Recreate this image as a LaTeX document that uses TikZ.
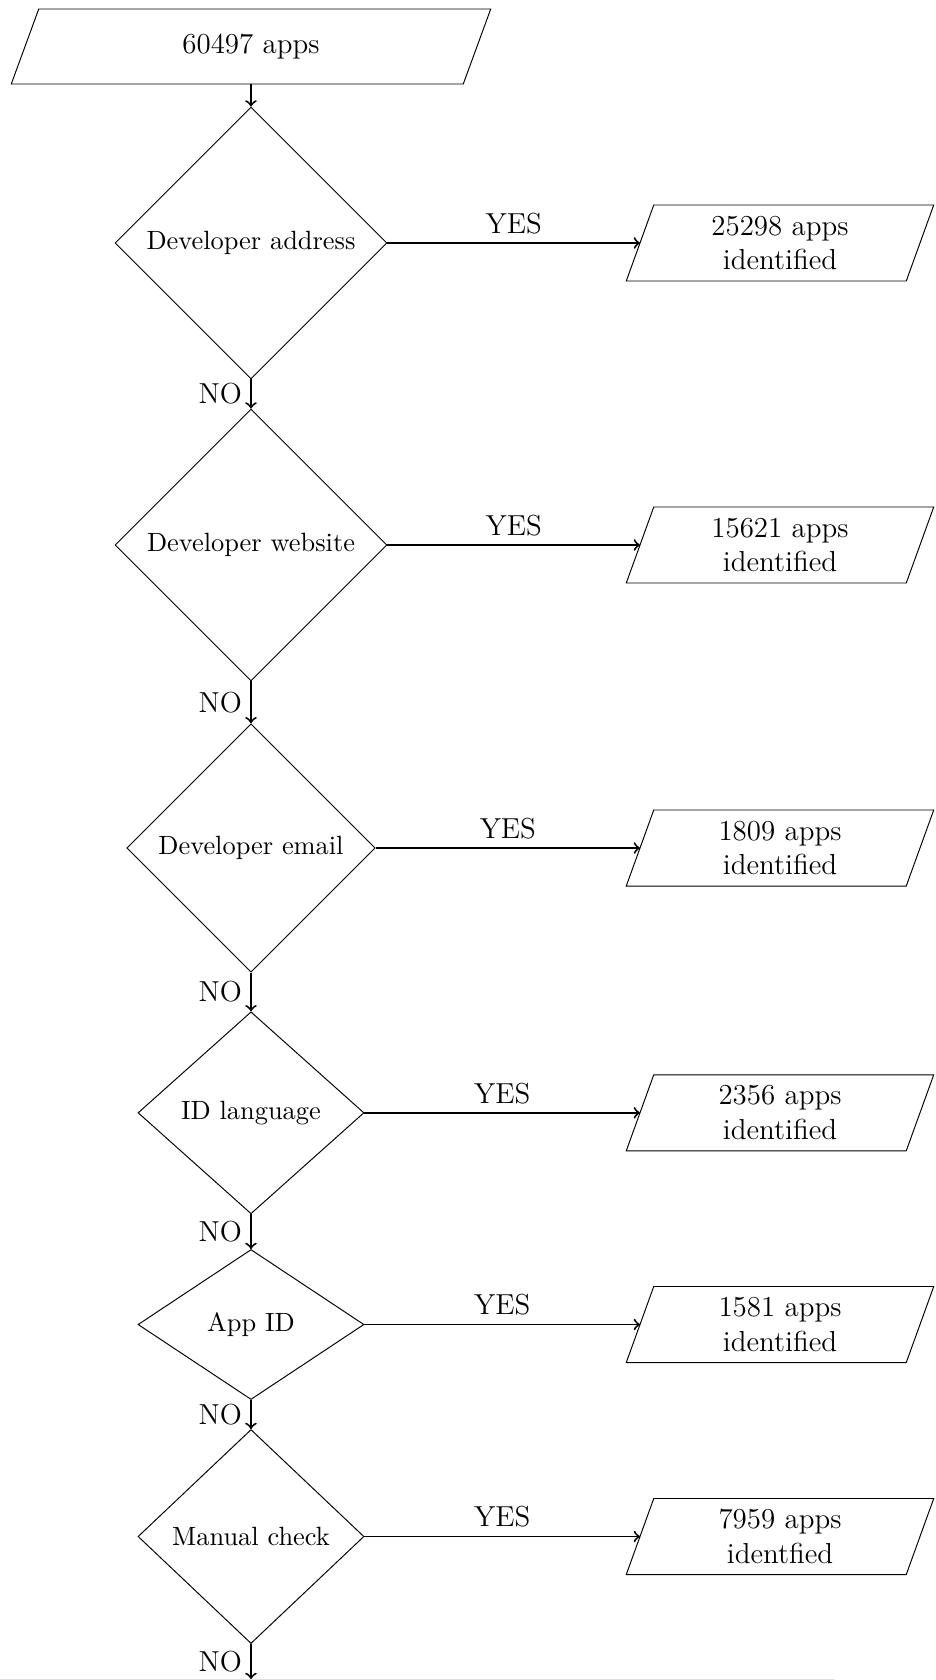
\documentclass[tikz,border=0pt]{standalone}
\usetikzlibrary{shapes.geometric}
\begin{document}
\begin{tikzpicture}[x=0.41494pt, y=-0.41494pt,
  % io boxes: the node is the mid-line rectangle; the slanted outline is drawn around it
  iobox/.style={rectangle, outer sep=0pt, inner sep=0pt, align=center,
    font=\fontsize{12}{14.5}\selectfont},
  decision/.style={diamond, aspect=1, draw, line width=0.4pt,
    font=\fontsize{10.95}{13.6}\selectfont, inner sep=0pt},
  result/.style={iobox, minimum width=116.18pt, minimum height=31.54pt},
  flow/.style={->, line width=0.8pt},
  lbl/.style={font=\fontsize{12}{14.5}\selectfont}]
\useasboundingbox (0,0) rectangle (936,1680);

% input
\node[iobox, minimum width=187.55pt, minimum height=31.12pt] (start) at (251,46.5) {60497 apps};

% decisions
\node[decision, minimum width=112.86pt, minimum height=112.86pt] (d1) at (251,243) {Developer address};
\node[decision, minimum width=112.86pt, minimum height=112.86pt] (d2) at (251,545) {Developer website};
\node[decision, minimum width=103.1pt, minimum height=103.1pt] (d3) at (251,848) {Developer email};
\node[decision, minimum width=93.78pt, minimum height=83.82pt] (d4) at (251,1112.8) {ID language};
\node[decision, minimum width=93.78pt, minimum height=62.24pt] (d5) at (251,1324.5) {App ID};
\node[decision, minimum width=93.78pt, minimum height=88.8pt] (d6) at (251,1536.5) {Manual check};

% outcomes
\node[result] (r1) at (780,243) {25298 apps\\identified};
\node[result] (r2) at (780,545) {15621 apps\\identified};
\node[result] (r3) at (780,848) {1809 apps\\identified};
\node[result] (r4) at (780,1112.8) {2356 apps\\identified};
\node[result] (r5) at (780,1324.5) {1581 apps\\identified};
\node[result] (r6) at (780,1536.5) {7959 apps\\identfied};

% slanted outlines of the io boxes (70 degree sides)
\foreach \n in {start,r1,r2,r3,r4,r5,r6}
  \draw[line width=0.4pt]
    ([xshift=-5.70pt]\n.south west) -- ([xshift=5.70pt]\n.north west) --
    ([xshift=5.70pt]\n.north east) -- ([xshift=-5.70pt]\n.south east) -- cycle;

\coordinate (out) at (251,1679);

% NO chain
\draw[flow] (start.south) -- (d1.north);
\draw[flow] (d1.south) -- node[lbl, left] {NO} (d2.north);
\draw[flow] (d2.south) -- node[lbl, left] {NO} (d3.north);
\draw[flow] (d3.south) -- node[lbl, left] {NO} (d4.north);
\draw[flow] (d4.south) -- node[lbl, left] {NO} (d5.north);
\draw[flow] (d5.south) -- node[lbl, left] {NO} (d6.north);
\draw[flow] (d6.south) -- node[lbl, left] {NO} (out);

% YES branches
\draw[flow] (d1.east) -- node[lbl, above] {YES} (r1.west);
\draw[flow] (d2.east) -- node[lbl, above] {YES} (r2.west);
\draw[flow] (d3.east) -- node[lbl, above] {YES} (r3.west);
\draw[flow] (d4.east) -- node[lbl, above] {YES} (r4.west);
\draw[flow] (d5.east) -- node[lbl, above] {YES} (r5.west);
\draw[flow] (d6.east) -- node[lbl, above] {YES} (r6.west);

% page edge
\draw[gray!25, line width=0.5pt] (0,1679.4) -- (835,1679.4);
\end{tikzpicture}
\end{document}
